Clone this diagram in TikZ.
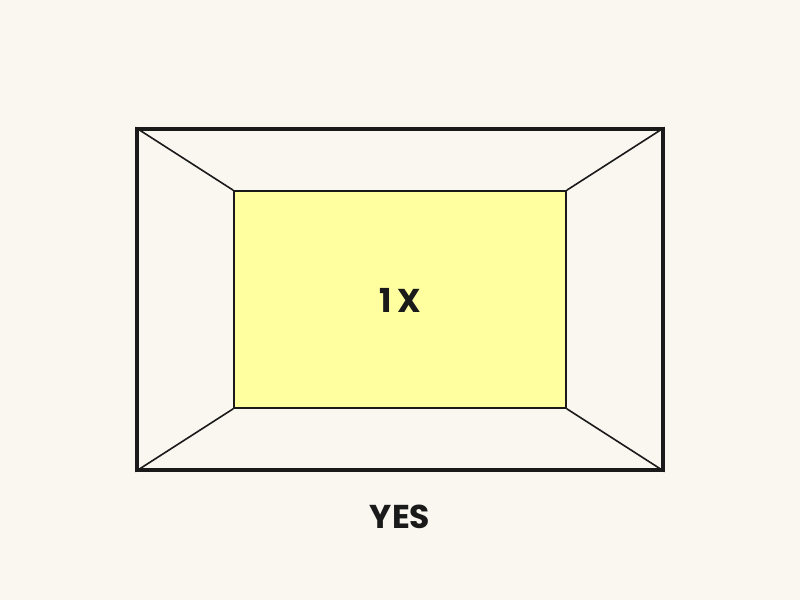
\documentclass[tikz,border=0pt]{standalone}
\usepackage{fontspec}
\setmainfont{Poppins}
\usetikzlibrary{positioning}
\definecolor{fond}{HTML}{F9F7F0}
\definecolor{jaune}{HTML}{FFFFA0}
\definecolor{trait}{HTML}{1A1A1A}
\begin{document}
\begin{tikzpicture}[x=1pt,y=-1pt]
%styles du cadre
\tikzset{cadre/.style={draw=trait,line width=3.2pt,minimum width=526pt,minimum height=341pt,inner sep=0pt},
vue/.style={draw=trait,fill=jaune,line width=1.6pt,minimum width=332pt,minimum height=217pt,inner sep=0pt},
fuite/.style={trait,line width=1.6pt},
texte/.style={text=trait,font=\fontsize{33}{33}\selectfont\bfseries}}
\fill[fond] (0,0) rectangle (800,600);
\useasboundingbox (0,0) rectangle (800,600);
\node[cadre] (cadre) at (400,299.5) {};
\node[vue] (vue) at (400,299.5) {};
\node[texte] (zoom) at (400,300) {1\kern6pt X};
%lignes de fuite
\draw[fuite] (cadre.north west) -- (vue.north west);
\draw[fuite] (cadre.north east) -- (vue.north east);
\draw[fuite] (cadre.south west) -- (vue.south west);
\draw[fuite] (cadre.south east) -- (vue.south east);
\node[texte,below=30pt of cadre] (oui) {YES};
\end{tikzpicture}
\end{document}
